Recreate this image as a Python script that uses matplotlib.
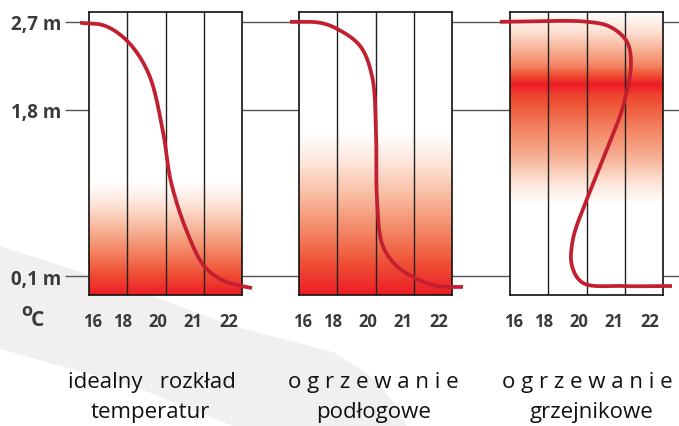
import numpy as np
import matplotlib.pyplot as plt
from matplotlib.patches import Polygon
from matplotlib.colors import LinearSegmentedColormap

# values: x in grid units (0..4 across the box), y in metres
height_ticks = [2.7, 1.8, 0.1]
height_labels = ["2,7 m", "1,8 m", "0,1 m"]
temp_labels = ["16", "18", "20", "21", "22"]
temp_label_pos = [0.08, 0.89, 1.8, 2.71, 3.65]

ideal_x = [-0.235, 0.418, 1.020, 1.560, 1.935, 2.144, 2.562, 3.007, 3.425, 3.765, 4.261]
ideal_y = [2.690, 2.659, 2.495, 2.168, 1.574, 1.062, 0.551, 0.203, 0.070, 0.018, -0.023]

floor_x = [-0.235, 0.549, 0.993, 1.595, 1.908, 2.013, 2.039, 2.180, 2.520, 2.980, 3.608, 4.288]
floor_y = [2.700, 2.690, 2.628, 2.454, 2.147, 1.574, 0.888, 0.420, 0.215, 0.090, -0.002, -0.012]

rad_x = [-0.261, 2.013, 2.614, 3.059, 3.163, 3.007, 2.876, 2.536, 2.013, 1.647, 1.621, 1.908,
         2.954, 4.235]
rad_y = [2.700, 2.700, 2.649, 2.495, 2.250, 1.912, 1.738, 1.400, 0.888, 0.479, 0.203, 0.029,
         -0.002, -0.002]

# red shading: heights (m) and intensity 0..1
ideal_shade_h = [-0.10, 1.06, 2.81]
ideal_shade_v = [1.0, 0.0, 0.0]
floor_shade_h = [-0.10, 1.57, 2.81]
floor_shade_v = [1.0, 0.0, 0.0]
rad_shade_h = [-0.10, 0.84, 1.0, 1.3, 1.7, 1.95, 2.06, 2.25, 2.6, 2.81]
rad_shade_v = [0.0, 0.0, 0.15, 0.42, 0.68, 0.85, 1.0, 0.62, 0.22, 0.0]

captions = [("idealny   rozkład", "temperatur"),
            ("o g r z e w a n i e", "podłogowe"),
            ("o g r z e w a n i e", "grzejnikowe")]
caption_x1 = [152, 373, 587]
caption_x2 = [150, 374, 592]

W, H = 679, 427
ymin, ymax = -0.094, 2.80
box_left = [89, 299, 510]
box_w, box_top, box_bot = 153, 13, 296
px_x, px_y = 38.25, 97.7
curve_col = "#c21f30"
txt_col = "#3a3a3a"
shade = LinearSegmentedColormap.from_list(
    "shade", ["#ffffff", "#fde3d7", "#f8b89d", "#f38866", "#ef5236", "#ec1c24"])

plt.rcParams["font.family"] = ["Open Sans", "DejaVu Sans"]


def smooth(xs, ys, n=24):
    # centripetal catmull-rom through the read points
    p = np.column_stack([np.array(xs) * px_x, np.array(ys) * px_y])
    p = np.vstack([2 * p[0] - p[1], p, 2 * p[-1] - p[-2]])
    out = []
    for i in range(1, len(p) - 2):
        p0, p1, p2, p3 = p[i - 1], p[i], p[i + 1], p[i + 2]
        t0 = 0.0
        t1 = t0 + np.linalg.norm(p1 - p0) ** 0.5
        t2 = t1 + np.linalg.norm(p2 - p1) ** 0.5
        t3 = t2 + np.linalg.norm(p3 - p2) ** 0.5
        t = np.linspace(t1, t2, n, endpoint=False)[:, None]
        a1 = (t1 - t) / (t1 - t0) * p0 + (t - t0) / (t1 - t0) * p1
        a2 = (t2 - t) / (t2 - t1) * p1 + (t - t1) / (t2 - t1) * p2
        a3 = (t3 - t) / (t3 - t2) * p2 + (t - t2) / (t3 - t2) * p3
        b1 = (t2 - t) / (t2 - t0) * a1 + (t - t0) / (t2 - t0) * a2
        b2 = (t3 - t) / (t3 - t1) * a2 + (t - t1) / (t3 - t1) * a3
        out.append((t2 - t) / (t2 - t1) * b1 + (t - t1) / (t2 - t1) * b2)
    out.append(p[-2][None, :])
    out = np.vstack(out)
    return out[:, 0] / px_x, out[:, 1] / px_y


fig = plt.figure(figsize=(W / 100, H / 100), dpi=100)

# light grey swoosh in the background
bg = fig.add_axes([0, 0, 1, 1])
bg.set_xlim(0, W)
bg.set_ylim(H, 0)
bg.axis("off")
bg.add_patch(Polygon([(0, 247), (133, 290), (233, 327), (333, 353), (375, 380), (395, 405),
                      (407, 427), (233, 427), (133, 387), (0, 350)],
                     closed=True, fc="#f0f0f0", ec="none"))

panels = [(ideal_x, ideal_y, ideal_shade_h, ideal_shade_v),
          (floor_x, floor_y, floor_shade_h, floor_shade_v),
          (rad_x, rad_y, rad_shade_h, rad_shade_v)]

for k, (cx, cy, sh, sv) in enumerate(panels):
    ax = fig.add_axes([box_left[k] / W, 1 - box_bot / H, box_w / W, (box_bot - box_top) / H])
    ax.set_xlim(0, 4)
    ax.set_ylim(ymin, ymax)

    hh = np.linspace(ymin, ymax, 400)
    f = np.interp(hh, sh, sv)
    img = np.repeat(f[:, None], 2, axis=1)
    ax.imshow(img, extent=[0, 4, ymin, ymax], origin="lower", aspect="auto",
              cmap=shade, vmin=0, vmax=1, zorder=0)

    for gx in [1, 2, 3]:
        ax.axvline(gx, color="#222222", lw=1.0, zorder=1)

    # connecting lines at the height marks
    right = 5.52 if k < 2 else 4.45
    ax.hlines(height_ticks, 4, right, color="#555555", lw=1.0, clip_on=False, zorder=0)

    sx, sy = smooth(cx, cy)
    ax.plot(sx, sy, color=curve_col, lw=2.7, solid_capstyle="butt", clip_on=False, zorder=3)

    ax.set_xticks(temp_label_pos, temp_labels)
    ax.tick_params(axis="x", length=0, pad=12, labelsize=12, labelcolor=txt_col)
    for lab in ax.get_xticklabels():
        lab.set_fontweight("bold")
    if k == 0:
        ax.set_yticks(height_ticks, height_labels)
        ax.tick_params(axis="y", length=17, width=1, color="#555555", pad=3,
                       labelsize=13.5, labelcolor=txt_col)
        for lab in ax.get_yticklabels():
            lab.set_fontweight("bold")
    else:
        ax.set_yticks([])
    for s in ax.spines.values():
        s.set_color("#111111")
        s.set_linewidth(1.2)

    fig.text(caption_x1[k] / W, 1 - 383 / H, captions[k][0], ha="center", va="center",
             fontsize=16, color="#111111")
    fig.text(caption_x2[k] / W, 1 - 413 / H, captions[k][1], ha="center", va="center",
             fontsize=16, color="#111111")

fig.text(21 / W, 1 - 311 / H, "o", fontsize=13, fontweight="bold", color=txt_col,
         ha="left", va="center")
fig.text(31 / W, 1 - 321 / H, "C", fontsize=15, fontweight="bold", color=txt_col,
         ha="left", va="center")

fig.savefig("out.png", dpi=100)
